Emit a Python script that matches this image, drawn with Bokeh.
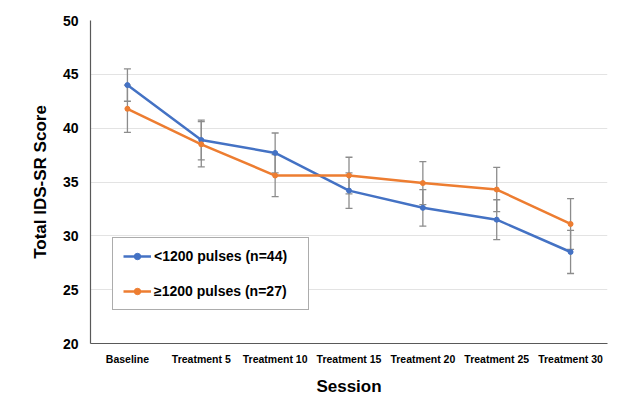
from bokeh.plotting import figure
from bokeh.models import (ColumnDataSource, Whisker, TeeHead, Legend, LegendItem,
                          FactorRange, Range1d, FixedTicker)
from bokeh.embed import file_html
from bokeh.resources import INLINE

sessions = ["Baseline", "Treatment 5", "Treatment 10", "Treatment 15",
            "Treatment 20", "Treatment 25", "Treatment 30"]
low_vals = [44.0, 38.9, 37.7, 34.2, 32.6, 31.5, 28.5]
low_err = [1.5, 1.85, 1.85, 1.65, 1.7, 1.85, 2.0]
high_vals = [41.8, 38.5, 35.6, 35.6, 34.9, 34.3, 31.1]
high_err = [2.2, 2.1, 1.95, 1.7, 2.0, 2.05, 2.35]
y_ticks = [20, 25, 30, 35, 40, 45, 50]

BLUE = "#4472C4"
ORANGE = "#ED7D31"
FONT = "Liberation Sans"

p = figure(width=611, height=408, x_range=FactorRange(*sessions),
           y_range=Range1d(20, 50), output_backend="svg", toolbar_location=None,
           min_border_left=90, min_border_right=4, min_border_top=20,
           min_border_bottom=65)
p.outline_line_color = None
p.background_fill_color = "white"
p.border_fill_color = "white"

src_low = ColumnDataSource(dict(x=sessions, y=low_vals,
                                upper=[v + e for v, e in zip(low_vals, low_err)],
                                lower=[v - e for v, e in zip(low_vals, low_err)]))
src_high = ColumnDataSource(dict(x=sessions, y=high_vals,
                                 upper=[v + e for v, e in zip(high_vals, high_err)],
                                 lower=[v - e for v, e in zip(high_vals, high_err)]))

for src in (src_low, src_high):
    w = Whisker(source=src, base="x", upper="upper", lower="lower",
                line_color="#8c8c8c", line_width=1.3,
                upper_head=TeeHead(size=7, line_color="#8c8c8c", line_width=1.3),
                lower_head=TeeHead(size=7, line_color="#8c8c8c", line_width=1.3))
    p.add_layout(w)

l1 = p.line("x", "y", source=src_low, line_color=BLUE, line_width=2.5)
s1 = p.scatter("x", "y", source=src_low, size=5, fill_color=BLUE, line_color=BLUE)
l2 = p.line("x", "y", source=src_high, line_color=ORANGE, line_width=2.5)
s2 = p.scatter("x", "y", source=src_high, size=5, fill_color=ORANGE, line_color=ORANGE)

p.yaxis.ticker = FixedTicker(ticks=y_ticks)
p.ygrid.grid_line_color = "#e3e3e3"
p.ygrid.grid_line_width = 1
p.xgrid.grid_line_color = None

for ax in (p.xaxis[0], p.yaxis[0]):
    ax.axis_line_color = "#595959"
    ax.axis_line_width = 1.2
    ax.major_tick_line_color = None
    ax.minor_tick_line_color = None
    ax.major_label_text_font = FONT
    ax.major_label_text_font_style = "bold"
    ax.major_label_text_color = "#000000"
    ax.axis_label_text_font = FONT
    ax.axis_label_text_font_style = "bold"
    ax.axis_label_text_color = "#000000"
    ax.axis_label_text_font_size = "17px"

p.yaxis.axis_label = "Total IDS-SR Score"
p.yaxis.major_label_text_font_size = "14px"
p.yaxis.major_label_standoff = 6
p.yaxis.axis_label_standoff = 10
p.xaxis.axis_label = "Session"
p.xaxis.major_label_text_font_size = "10.5px"
p.xaxis.major_label_standoff = 3
p.xaxis.axis_label_standoff = 9

legend = Legend(items=[
    LegendItem(label="<1200 pulses (n=44)", renderers=[l1, s1]),
    LegendItem(label="\u22651200 pulses (n=27)", renderers=[l2, s2]),
], location=(22, 33))
legend.label_text_font = FONT
legend.label_text_font_style = "bold"
legend.label_text_font_size = "14px"
legend.label_text_color = "#000000"
legend.border_line_color = "#595959"
legend.border_line_width = 1
legend.background_fill_color = "white"
legend.background_fill_alpha = 1
legend.padding = 10
legend.spacing = 19
legend.glyph_width = 28
legend.glyph_height = 16
legend.label_height = 16
legend.label_width = 144
legend.label_standoff = 3
legend.margin = 0
p.add_layout(legend, "center")

open("out.html", "w").write(file_html(p, INLINE))
